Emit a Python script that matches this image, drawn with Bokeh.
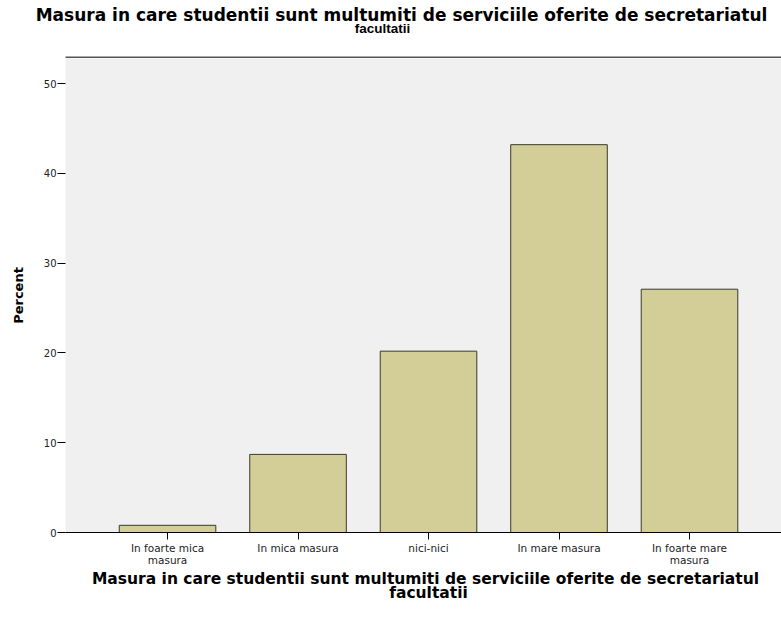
from bokeh.plotting import figure
from bokeh.models import Range1d, FixedTicker
from bokeh.layouts import column
from bokeh.core.properties import value
from bokeh.embed import file_html
from bokeh.resources import INLINE

# ---- data ----
categories = ["In foarte mica\nmasura", "In mica masura", "nici-nici",
              "In mare masura", "In foarte mare\nmasura"]
positions = [1, 2, 3, 4, 5]
percent = [0.8, 8.7, 20.2, 43.2, 27.1]
y_ticks = [0, 10, 20, 30, 40, 50]
title_line1 = "Masura in care studentii sunt multumiti de serviciile oferite de secretariatul"
title_line2 = "facultatii"
xlabel_line1 = "Masura in care studentii sunt multumiti de serviciile oferite de secretariatul"
xlabel_line2 = "facultatii"
ylabel = "Percent"

FONT = "DejaVu Sans"
W = 781
LEFT = 65
HEADER_H = 58
MAIN_H = 510
FOOTER_H = 44


def blank_panel(h):
    f = figure(width=W, height=h, x_range=Range1d(0, W), y_range=Range1d(h, 0),
               output_backend="svg", toolbar_location=None,
               x_axis_location=None, y_axis_location=None,
               min_border=0, min_border_left=0, min_border_right=0,
               min_border_top=0, min_border_bottom=0)
    f.outline_line_color = None
    f.grid.grid_line_color = None
    f.background_fill_color = "white"
    f.border_fill_color = "white"
    try:
        f.frame_align = False          # keep this panel's frame full width
    except Exception:
        f.x_range = Range1d(LEFT, W)   # frame aligned with main plot: keep 1:1 pixels
    return f


# ---- header: chart title and top border of the plot area ----
header = blank_panel(HEADER_H)
header.text(x=[401], y=[14], text=[title_line1], text_align="center",
            text_baseline="middle", text_font=value(FONT), text_font_style="bold",
            text_font_size="17px", text_color="black")
header.text(x=[382], y=[27.5], text=[title_line2], text_align="center",
            text_baseline="middle", text_font=value("Liberation Sans"),
            text_font_style="bold", text_font_size="13.5px", text_color="black")
header.line(x=[LEFT, W], y=[57, 57], line_color="#555555", line_width=2)

# ---- main plot ----
p = figure(width=W, height=MAIN_H,
           x_range=Range1d(0.218, 5.705), y_range=Range1d(0, 52.8),
           output_backend="svg", toolbar_location=None,
           min_border_left=LEFT, min_border_right=0,
           min_border_top=0, min_border_bottom=36)
p.background_fill_color = "#F0F0F0"
p.border_fill_color = "white"
p.outline_line_color = None
p.grid.grid_line_color = None

p.vbar(x=positions, top=percent, width=0.74, bottom=0,
       fill_color="#D3CE97", line_color="#3a3a2a", line_width=1)

xa = p.xaxis[0]
xa.ticker = FixedTicker(ticks=positions)
xa.major_label_overrides = {pos: lab for pos, lab in zip(positions, categories)}
xa.axis_line_color = "black"
xa.major_tick_out = 7
xa.major_tick_in = 0
xa.minor_tick_line_color = None
xa.major_label_text_font = FONT
xa.major_label_text_font_size = "10.5px"
xa.major_label_text_line_height = 1.0
xa.major_label_standoff = 2
xa.major_label_text_color = "#222222"

ya = p.yaxis[0]
ya.ticker = FixedTicker(ticks=y_ticks)
ya.axis_line_color = None
ya.major_tick_out = 8
ya.major_tick_in = 0
ya.minor_tick_line_color = None
ya.major_label_text_font = FONT
ya.major_label_text_font_size = "10px"
ya.major_label_standoff = 1
ya.major_label_text_color = "#222222"
ya.axis_label = ylabel
ya.axis_label_text_font = FONT
ya.axis_label_text_font_style = "bold"
ya.axis_label_text_font_size = "13px"
ya.axis_label_text_color = "black"
ya.axis_label_standoff = 15

# ---- footer: x axis title ----
footer = blank_panel(FOOTER_H)
footer.text(x=[425], y=[10], text=[xlabel_line1], text_align="center",
            text_baseline="middle", text_font=value(FONT), text_font_style="bold",
            text_font_size="15.5px", text_color="black")
footer.text(x=[428], y=[24], text=[xlabel_line2], text_align="center",
            text_baseline="middle", text_font=value(FONT), text_font_style="bold",
            text_font_size="15.5px", text_color="black")

layout = column(header, p, footer, spacing=0)
open("out.html", "w").write(file_html(layout, INLINE))
